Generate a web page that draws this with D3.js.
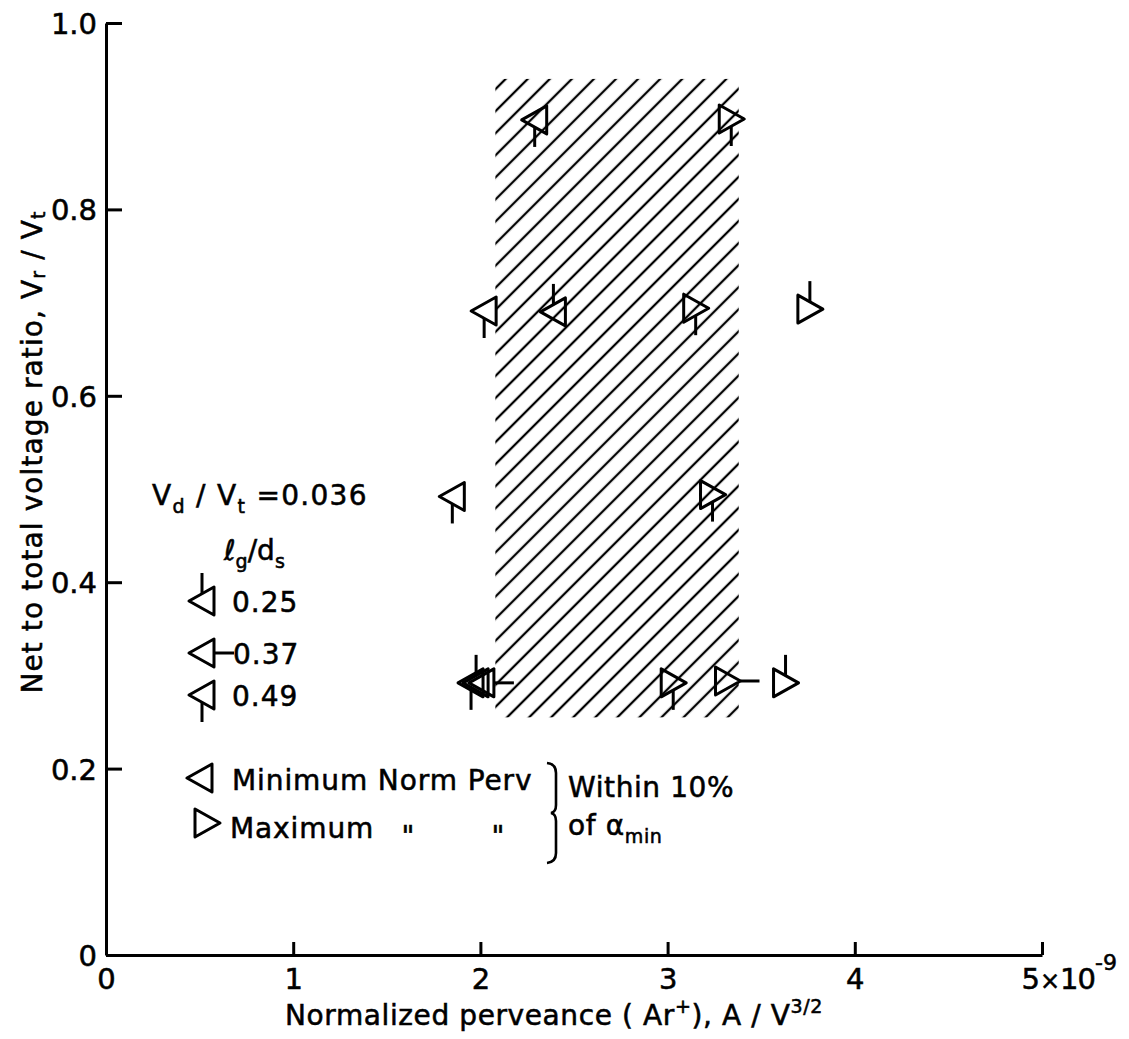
<!DOCTYPE html>
<html><head><meta charset="utf-8">
<script src="https://cdn.jsdelivr.net/npm/d3@7"></script>
<style>
body{margin:0;background:#fff;}
svg text{font-family:"DejaVu Sans",sans-serif;fill:#000;stroke:#000;stroke-width:0.55px;}
</style></head><body>
<svg id="c" width="1129" height="1039"></svg>
<script>
// ---------- data ----------
const xDomain = [0, 5];
const yDomain = [0, 1];
const xTicks = [0, 1, 2, 3, 4, 5];
const yTicks = [0, 0.2, 0.4, 0.6, 0.8, 1.0];
const xTickLabels = ["0", "1", "2", "3", "4", "5"];
const yTickLabels = ["0", "0.2", "0.4", "0.6", "0.8", "1.0"];
// minimum normalized perveance (left-pointing triangles)
const minX  = [2.29, 2.02, 2.39, 1.85, 1.95, 1.977, 2.008];
const minY  = [0.896, 0.691, 0.690, 0.492, 0.292, 0.292, 0.292];
const minLg = [0.49, 0.49, 0.25, 0.49, 0.49, 0.25, 0.37];
// maximum normalized perveance (right-pointing triangles)
const maxX  = [3.34, 3.15, 3.76, 3.24, 3.03, 3.32, 3.63];
const maxY  = [0.897, 0.694, 0.693, 0.494, 0.292, 0.294, 0.292];
const maxLg = [0.49, 0.49, 0.25, 0.49, 0.49, 0.37, 0.25];
// hatched band
const bandX = [2.08, 3.38];
const bandY = [0.255, 0.94];
const lgValues = [0.25, 0.37, 0.49];
const lgLabels = ["0.25", "0.37", "0.49"];

// ---------- setup ----------
const svg = d3.select("#c");
const x = d3.scaleLinear().domain(xDomain).range([106, 1042]);
const y = d3.scaleLinear().domain(yDomain).range([955, 23]);
const stemDir = d3.scaleOrdinal().domain(lgValues).range(["up", "right", "down"]);

const defs = svg.append("defs");
const pat = defs.append("pattern").attr("id", "hatch")
  .attr("patternUnits", "userSpaceOnUse").attr("width", 15.6).attr("height", 15.6)
  .attr("patternTransform", "rotate(45)");
pat.append("line").attr("x1", 7.8).attr("y1", -1).attr("x2", 7.8).attr("y2", 17)
  .attr("stroke", "#000").attr("stroke-width", 2.3);

// hatched region
svg.append("rect")
  .attr("x", x(bandX[0])).attr("y", y(bandY[1]))
  .attr("width", x(bandX[1]) - x(bandX[0]))
  .attr("height", y(bandY[0]) - y(bandY[1]))
  .attr("fill", "url(#hatch)");

// ---------- axes ----------
const xAxis = d3.axisBottom(x).tickValues(xTicks)
  .tickFormat((d, i) => xTickLabels[i]).tickSizeInner(-13).tickSizeOuter(0).tickPadding(13);
const yAxis = d3.axisLeft(y).tickValues(yTicks)
  .tickFormat((d, i) => yTickLabels[i]).tickSizeInner(-16).tickSizeOuter(0).tickPadding(9);

const gx = svg.append("g").attr("transform", `translate(0,${y(0)})`).call(xAxis);
const gy = svg.append("g").attr("transform", `translate(${x(0)},0)`).call(yAxis);
[gx, gy].forEach(g => {
  g.select(".domain").attr("stroke", "#000").attr("stroke-width", 3);
  g.selectAll(".tick line").attr("stroke", "#000").attr("stroke-width", 3);
  g.selectAll(".tick text").attr("font-family", "DejaVu Sans").attr("font-size", 29).attr("fill", "#000");
});
gy.selectAll(".tick text").attr("dy", "0.36em");
// exponent on last x label
const last = gx.selectAll(".tick text").filter((d) => d === 5);
last.attr("text-anchor", "start").attr("x", -21);
last.append("tspan").text("×").attr("font-size", 24);
last.append("tspan").text("10").attr("letter-spacing", -1);
last.append("tspan").text("-9").attr("font-size", 22).attr("dy", -19);

// ---------- helpers ----------
function rich(g, px, py, parts, size, anchor, ls, subShift) {
  const t = g.append("text").attr("x", px).attr("y", py).attr("font-size", size)
    .attr("text-anchor", anchor || "start");
  if (ls) t.attr("letter-spacing", ls);
  const ss = subShift == null ? 0.28 : subShift;
  let off = 0;
  parts.forEach(([s, k]) => {
    let target = 0, fs = size;
    if (k === "sub") { target = size * ss; fs = size * 0.68; }
    if (k === "sup") { target = -size * 0.42; fs = size * 0.68; }
    t.append("tspan").text(s).attr("font-size", fs).attr("dy", target - off);
    off = target;
  });
  return t;
}

function marker(g, cx, cy, dir, lg) {
  // dir: -1 = pointing left (minimum), +1 = pointing right (maximum)
  const p = d3.path();
  p.moveTo(cx + dir * 13, cy);
  p.lineTo(cx - dir * 12, cy - 14);
  p.lineTo(cx - dir * 12, cy + 14);
  p.closePath();
  g.append("path").attr("d", p.toString()).attr("fill", "none")
    .attr("stroke", "#000").attr("stroke-width", 3).attr("stroke-linejoin", "round");
  if (lg == null) return;
  const s = stemDir(lg);
  const L = g.append("line").attr("stroke", "#000").attr("stroke-width", 3);
  if (s === "up") L.attr("x1", cx).attr("y1", cy - 7).attr("x2", cx).attr("y2", cy - 28);
  if (s === "down") L.attr("x1", cx).attr("y1", cy + 7).attr("x2", cx).attr("y2", cy + 27);
  if (s === "right") { const sx = dir < 0 ? cx + 12 : cx + 13; L.attr("x1", sx).attr("y1", cy).attr("x2", cx + 32).attr("y2", cy); }
}

// ---------- data marks ----------
const gm = svg.append("g");
minX.forEach((v, i) => marker(gm, x(v), y(minY[i]), -1, minLg[i]));
maxX.forEach((v, i) => marker(gm, x(v), y(maxY[i]), 1, maxLg[i]));

// ---------- axis titles ----------
const titles = svg.append("g");
rich(titles, 285, 1025, [["Normalized  perveance ( Ar"], ["+", "sup"], ["), A / V"], ["3/2", "sup"]], 28, "start", 0.6);
const yt = titles.append("g").attr("transform", "translate(42,452) rotate(-90)");
rich(yt, 0, 0, [["Net to total voltage ratio,  V"], ["r", "sub"], [" / V"], ["t", "sub"]], 28, "middle", 1.1, 0.1);

// ---------- legend ----------
const lg = svg.append("g");
rich(lg, 152, 505, [["V"], ["d", "sub"], [" / V"], ["t", "sub"], [" =0.036"]], 28, "start", 1.3);
rich(lg, 224, 560, [["ℓ"], ["g", "sub"], ["/d"], ["s", "sub"]], 28);
const lgRowY = [601, 653, 695];
const lgTextX = [232, 233, 232];
lgValues.forEach((v, i) => {
  marker(lg, 202, lgRowY[i], -1, v);
  rich(lg, lgTextX[i], lgRowY[i] + 11, [[lgLabels[i]]], 28, "start", 1);
});
marker(lg, 200, 778, -1, null);
rich(lg, 232, 790, [["Minimum Norm Perv"]], 28, "start", 0.9);
marker(lg, 207, 823, 1, null);
rich(lg, 230, 838, [["Maximum"]], 28, "start", 0.9);
rich(lg, 408, 846, [["\""]], 28, "middle");
rich(lg, 498, 846, [["\""]], 28, "middle");
const br = d3.path();
br.moveTo(547, 763);
br.quadraticCurveTo(556, 764, 556, 773);
br.lineTo(556, 805);
br.quadraticCurveTo(556, 812, 551, 813);
br.quadraticCurveTo(556, 814, 556, 821);
br.lineTo(556, 853);
br.quadraticCurveTo(556, 862, 547, 863);
lg.append("path").attr("d", br.toString()).attr("fill", "none").attr("stroke", "#000").attr("stroke-width", 2.6);
rich(lg, 568, 797, [["Within 10%"]], 28, "start", 0.6);
rich(lg, 568, 835, [["of α"], ["min", "sub"]], 28, "start", 0.6);
</script>
</body></html>
